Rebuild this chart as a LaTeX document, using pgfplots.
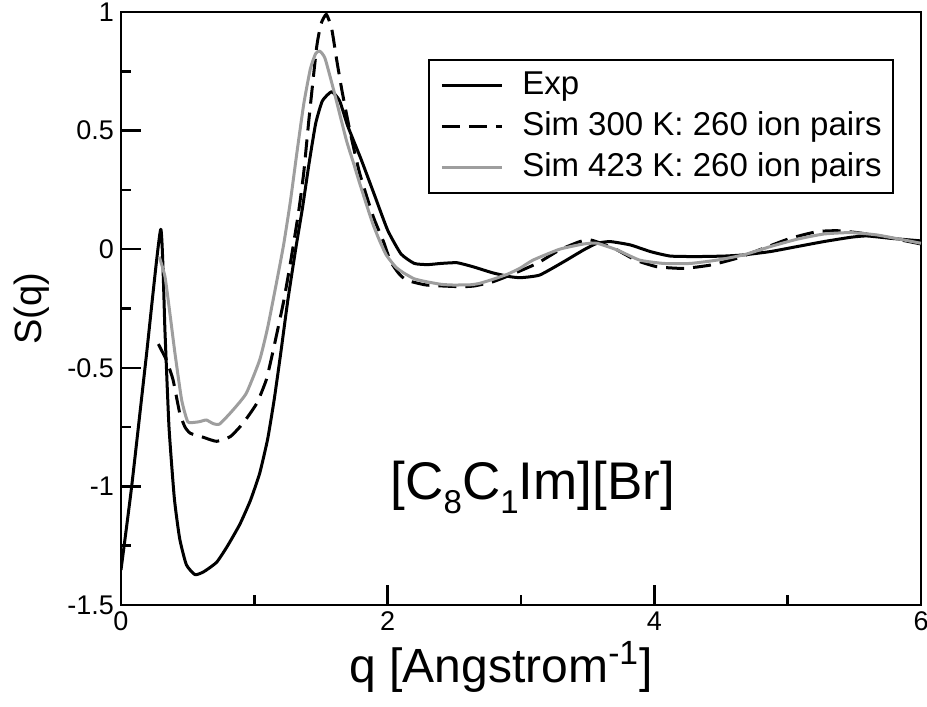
\documentclass[border=0pt]{standalone}
\usepackage{fontspec}
\setmainfont{Liberation Sans}
\usepackage{pgfplots}
\pgfplotsset{compat=1.18}
\definecolor{simgray}{gray}{0.62}

% S(q) data: experiment and two simulations
\pgfplotstableread{
q S
0     -1.352
0.08  -1.0
0.19  -0.45
0.298  0.084
0.33  -0.35
0.36  -0.75
0.40  -1.05
0.44  -1.22
0.49  -1.33
0.555 -1.372
0.62  -1.36
0.717 -1.32
0.80  -1.25
0.891 -1.16
0.97  -1.06
1.04  -0.945
1.10  -0.80
1.15  -0.63
1.20  -0.43
1.25  -0.22
1.31   0.0
1.36   0.17
1.41   0.36
1.46   0.53
1.51   0.625
1.58   0.664
1.64   0.625
1.70   0.52
1.80   0.38
1.90   0.23
2.00   0.08
2.10  -0.02
2.20  -0.06
2.30  -0.065
2.40  -0.06
2.52  -0.057
2.64  -0.074
2.79  -0.10
2.92  -0.116
3.00  -0.12
3.14  -0.109
3.32  -0.053
3.47  -0.003
3.57   0.025
3.67   0.032
3.82   0.018
3.97  -0.01
4.12  -0.029
4.32  -0.031
4.52  -0.029
4.67  -0.024
4.87  -0.01
5.07   0.011
5.27   0.032
5.47   0.05
5.59   0.056
5.77   0.046
6.00   0.035
}\expdata

\pgfplotstableread{
q S
0.28  -0.40
0.34  -0.467
0.39  -0.55
0.44  -0.69
0.48  -0.75
0.52  -0.776
0.617 -0.793
0.717 -0.81
0.82  -0.79
0.915 -0.734
1.018 -0.65
1.09  -0.55
1.142 -0.425
1.217 -0.228
1.27  -0.06
1.33   0.15
1.37   0.32
1.41   0.55
1.467  0.85
1.50   0.95
1.54   0.99
1.58   0.93
1.62   0.79
1.66   0.66
1.72   0.49
1.79   0.32
1.89   0.14
1.97   0.03
2.02  -0.05
2.08  -0.10
2.14  -0.13
2.29  -0.151
2.54  -0.158
2.65  -0.155
2.79  -0.137
2.92  -0.109
3.12  -0.06
3.29  -0.003
3.44   0.032
3.52   0.039
3.60   0.025
3.72  -0.003
3.86  -0.046
4.02  -0.074
4.22  -0.081
4.42  -0.067
4.62  -0.038
4.82   0.004
5.02   0.046
5.22   0.074
5.37   0.078
5.52   0.07
5.72   0.053
6.00   0.022
}\simA

\pgfplotstableread{
q S
0.287 -0.032
0.33  -0.116
0.37  -0.285
0.405 -0.44
0.455 -0.636
0.50  -0.727
0.55  -0.73
0.59  -0.727
0.64  -0.72
0.69  -0.735
0.74  -0.737
0.84  -0.678
0.94  -0.607
1.04  -0.467
1.10  -0.33
1.17  -0.13
1.22   0.02
1.27   0.20
1.32   0.41
1.37   0.61
1.42   0.76
1.46   0.825
1.49   0.835
1.53   0.805
1.60   0.66
1.69   0.46
1.74   0.37
1.79   0.278
1.84   0.19
1.89   0.105
1.94   0.035
1.99  -0.025
2.06  -0.075
2.12  -0.10
2.20  -0.125
2.29  -0.137
2.40  -0.148
2.49  -0.151
2.62  -0.15
2.69  -0.144
2.80  -0.125
2.90  -0.105
2.99  -0.081
3.09  -0.046
3.29   0.0
3.47   0.022
3.57   0.025
3.72  -0.003
3.89  -0.046
4.07  -0.06
4.27  -0.06
4.47  -0.046
4.67  -0.024
4.87   0.011
5.07   0.042
5.27   0.064
5.47   0.07
5.67   0.06
6.00   0.025
}\simB

\begin{document}
\begin{tikzpicture}
\begin{axis}[
  scale only axis,
  width=400pt, height=296.5pt,
  xmin=0, xmax=6, ymin=-1.5, ymax=1,
  xtick={0,2,4,6},
  ytick={-1.5,-1,-0.5,0,0.5,1},
  minor x tick num=1, minor y tick num=1,
  tick align=inside,
  xtick pos=bottom, ytick pos=left,
  major tick length=10pt, minor tick length=5pt,
  axis line style={line width=1.3pt},
  tick style={black, line width=1.3pt},
  tick label style={font=\fontsize{13.5}{15}\selectfont},
  /pgf/number format/assume math mode=true,
  /pgf/number format/fixed,
  xlabel={q [Angstrom\textsuperscript{-1}]},
  xlabel style={at={(axis description cs:0.475,-0.130)}, anchor=base,
    inner sep=0pt, font=\fontsize{24}{28}\selectfont},
  ylabel={S(q)},
  ylabel style={at={(axis description cs:-0.089,0.5)}, anchor=south,
    inner sep=0pt, font=\fontsize{19}{22}\selectfont},
  legend cell align=left,
  legend style={at={(axis description cs:0.966,0.9207)}, anchor=north east,
    draw=black, line width=1pt, inner xsep=5.5pt, inner ysep=2.5pt,
    row sep=0pt,
    font=\fontsize{16.5}{19}\selectfont,
    nodes={inner xsep=0pt, inner ysep=2.5pt, text height=12pt, text depth=3.5pt}},
  legend image code/.code={
    \draw[#1] (0pt,0pt) -- (30pt,0pt);
    \path (39.5pt,0pt);
  },
]
\addplot[black, line width=1.5pt, line join=round, smooth, tension=0.3]
  table[x=q, y=S] {\expdata};
\addlegendentry{Exp}
\addplot[black, line width=1.5pt, dash pattern=on 9pt off 4.5pt, smooth, tension=0.3]
  table[x=q, y=S] {\simA};
\addlegendentry{Sim 300 K: 260 ion pairs}
\addplot[simgray, line width=1.5pt, line join=round, smooth, tension=0.3]
  table[x=q, y=S] {\simB};
\addlegendentry{Sim 423 K: 260 ion pairs}

\node[anchor=base west, inner sep=0pt, font=\fontsize{26.5}{30}\selectfont]
  at (axis cs:2.02,-1.057)
  {[C\raisebox{-7pt}{\fontsize{16.5}{16}\selectfont 8}C\raisebox{-7pt}{\fontsize{16.5}{16}\selectfont 1}Im][Br]};

\coordinate (SW) at (rel axis cs:0,0);
\coordinate (NE) at (rel axis cs:1,1);
\end{axis}
\pgfresetboundingbox
\path ([shift={(-60.5pt,-50.5pt)}]SW) rectangle ([shift={(3pt,6pt)}]NE);
\end{tikzpicture}
\end{document}
